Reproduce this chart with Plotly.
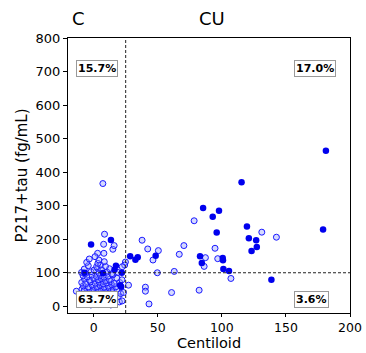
import plotly.graph_objects as go

# Open markers (one group)
open_x = [7.2, 8.5, 7.8, 15, 16, 3.1, 8, 37.8, 42.2, 50.5, 46.3, 70.4, 66.8, 78.4, 94.7, 96.8, 87.2, 86.2,
          131.2, 142.6, 107.1, 62.9, 49.7, 40.4, 40.4, 43.2, 60.8, 82.3, 24.8, 24.2, 22.3, 27.2, -13.5,
          # dense cluster
          -8, -5.3, -2.2, 1.4, 4.1, 7.3, 10.2, 13.4, 20.1,
          -9.2, -4.1, 0.3, 3.2, 6.4, 9.1, 12.3, 22.2,
          -10.1, -6.2, -3.3, 2.1, 5.2, 8.4, 11.1, 14.3, 19.2,
          -8.3, -5.1, -1.2, 1.3, 4.4, 7.1, 10.3, 13.2, 21.1, 23.3,
          -9.1, -7.2, -3.1, 0.2, 3.3, 6.2, 9.4, 12.1, 15.3, 18.2,
          -8.1, -4.3, -1.1, 2.4, 5.1, 8.2, 11.4, 14.1, 17.3,
          -9.3, -6.1, -2.3, 1.2, 4.3, 7.4, 10.1, 13.3, 16.1, 20.3,
          -7.1, -3.2, 0.1, 3.4, 6.1, 9.3, 12.2, 18.1, 22.1,
          -8.2, -5.2, -1.3, 2.2, 5.3, 8.1, 11.2, 15.1,
          -9.4, -6.3, -2.1, 4.2, 10.4, 14.2, 19.1,
          -7.3, 0.4, 3.1, 6.3, 12.4,
          -4.2, 2.3, 5.4, 9.2,
          -5.4, 3.3, 8.3,
          -3.4, 4.1,
          1.1]
open_y = [366, 215, 185, 170, 181, 158, 158, 197, 171, 166, 138, 181, 155, 255, 173, 142, 145, 119,
          221, 206, 83, 104, 100, 57, 45, 7, 41, 48, 132, 123, 118, 63, 45,
          6, 9, 4, 8, 5, 10, 7, 4, 13,
          19, 22, 17, 21, 18, 23, 20, 16,
          31, 28, 33, 29, 32, 27, 30, 34, 29,
          41, 38, 43, 39, 42, 37, 40, 44, 38, 41,
          51, 48, 53, 49, 52, 47, 50, 54, 48, 51,
          61, 58, 63, 59, 62, 57, 60, 64, 58,
          71, 68, 73, 69, 72, 67, 70, 74, 68, 71,
          81, 78, 83, 79, 82, 77, 80, 84, 79,
          91, 88, 93, 89, 92, 87, 90, 94,
          101, 98, 103, 99, 102, 97, 101,
          111, 108, 113, 109, 112,
          121, 118, 123, 119,
          131, 128, 133,
          141, 138,
          148]

# Filled markers
fill_x = [181.2, 179, 115.4, 85.4, 97.8, 92.9, 96, 119.6, 121.1, 126.8, 123.2, 127.3, 83, 84.4, 100.7,
          100.9, 101.2, 105.6, 138.7, 48.4, 28.5, 34.4, 32.6, -2, 13.5, 17.4, 16.3, 7.3, 22, 20.7, 21.5, -7.2]
fill_y = [464, 229, 370, 293, 285, 267, 220, 238, 203, 197, 165, 177, 149, 129, 144,
          137, 111, 105, 79, 151, 149, 146, 139, 184, 198, 121, 109, 99, 100, 63, 58, 100]

cut_x = 25
cut_y = 100

quad_labels = ["15.7%", "17.0%", "63.7%", "3.6%"]
quad_x = [3, 173, 2.6, 170]
quad_y = [708, 708, 19, 19]

group_labels = ["C", "CU"]
group_x = [-12, 92]

PLOT_H = 353 - 38 - 40

fig = go.Figure()
fig.add_trace(go.Scatter(x=open_x, y=open_y, mode="markers",
                         marker=dict(size=6, color="rgba(150,160,255,0.4)",
                                     line=dict(color="#1a1aff", width=1))))
fig.add_trace(go.Scatter(x=fill_x, y=fill_y, mode="markers",
                         marker=dict(size=6.5, color="#0000ee", line=dict(width=0))))

fig.add_shape(type="line", x0=cut_x, x1=cut_x, y0=0, y1=1, xref="x", yref="paper",
              line=dict(color="#222", width=1, dash="3px,2px"))
fig.add_shape(type="line", x0=0, x1=1, y0=cut_y, y1=cut_y, xref="paper", yref="y",
              line=dict(color="#222", width=1, dash="3px,2px"))

for t, x, y in zip(quad_labels, quad_x, quad_y):
    fig.add_annotation(x=x, y=y, text="<b>%s</b>" % t, showarrow=False,
                       font=dict(family="DejaVu Sans", size=11, color="black"),
                       bgcolor="white", bordercolor="#999", borderwidth=1, borderpad=1)

for t, x in zip(group_labels, group_x):
    fig.add_annotation(x=x, y=1.025, xref="x", yref="paper", text=t, showarrow=False,
                       xanchor="center", yanchor="bottom",
                       font=dict(family="DejaVu Sans", size=18, color="black"))

# x-axis title as annotation
fig.add_annotation(x=0.5, y=-38.5 / PLOT_H, xref="paper", yref="paper", text="Centiloid", showarrow=False,
                   xanchor="center", yanchor="bottom", borderpad=0,
                   font=dict(family="DejaVu Sans", size=14.5, color="black"))

fig.update_layout(
    width=366, height=353,
    margin=dict(l=68, r=16, t=38, b=40),
    plot_bgcolor="white", paper_bgcolor="white",
    showlegend=False,
    font=dict(family="DejaVu Sans", size=13, color="black"),
)
fig.update_xaxes(range=[-20, 200], tickvals=[0, 50, 100, 150, 200], showgrid=False, zeroline=False,
                 showline=True, linecolor="black", linewidth=1, mirror=True, automargin=False,
                 ticks="outside", ticklen=3, tickcolor="black", tickfont=dict(size=12.5))
fig.update_yaxes(range=[-20, 800], tickvals=[0, 100, 200, 300, 400, 500, 600, 700, 800], showgrid=False,
                 zeroline=False, showline=True, linecolor="black", linewidth=1, mirror=True, automargin=False,
                 ticks="outside", ticklen=4, tickcolor="black",
                 title=dict(text="P217+tau (fg/mL)", font=dict(size=15), standoff=4))

fig.write_html("out.html")
